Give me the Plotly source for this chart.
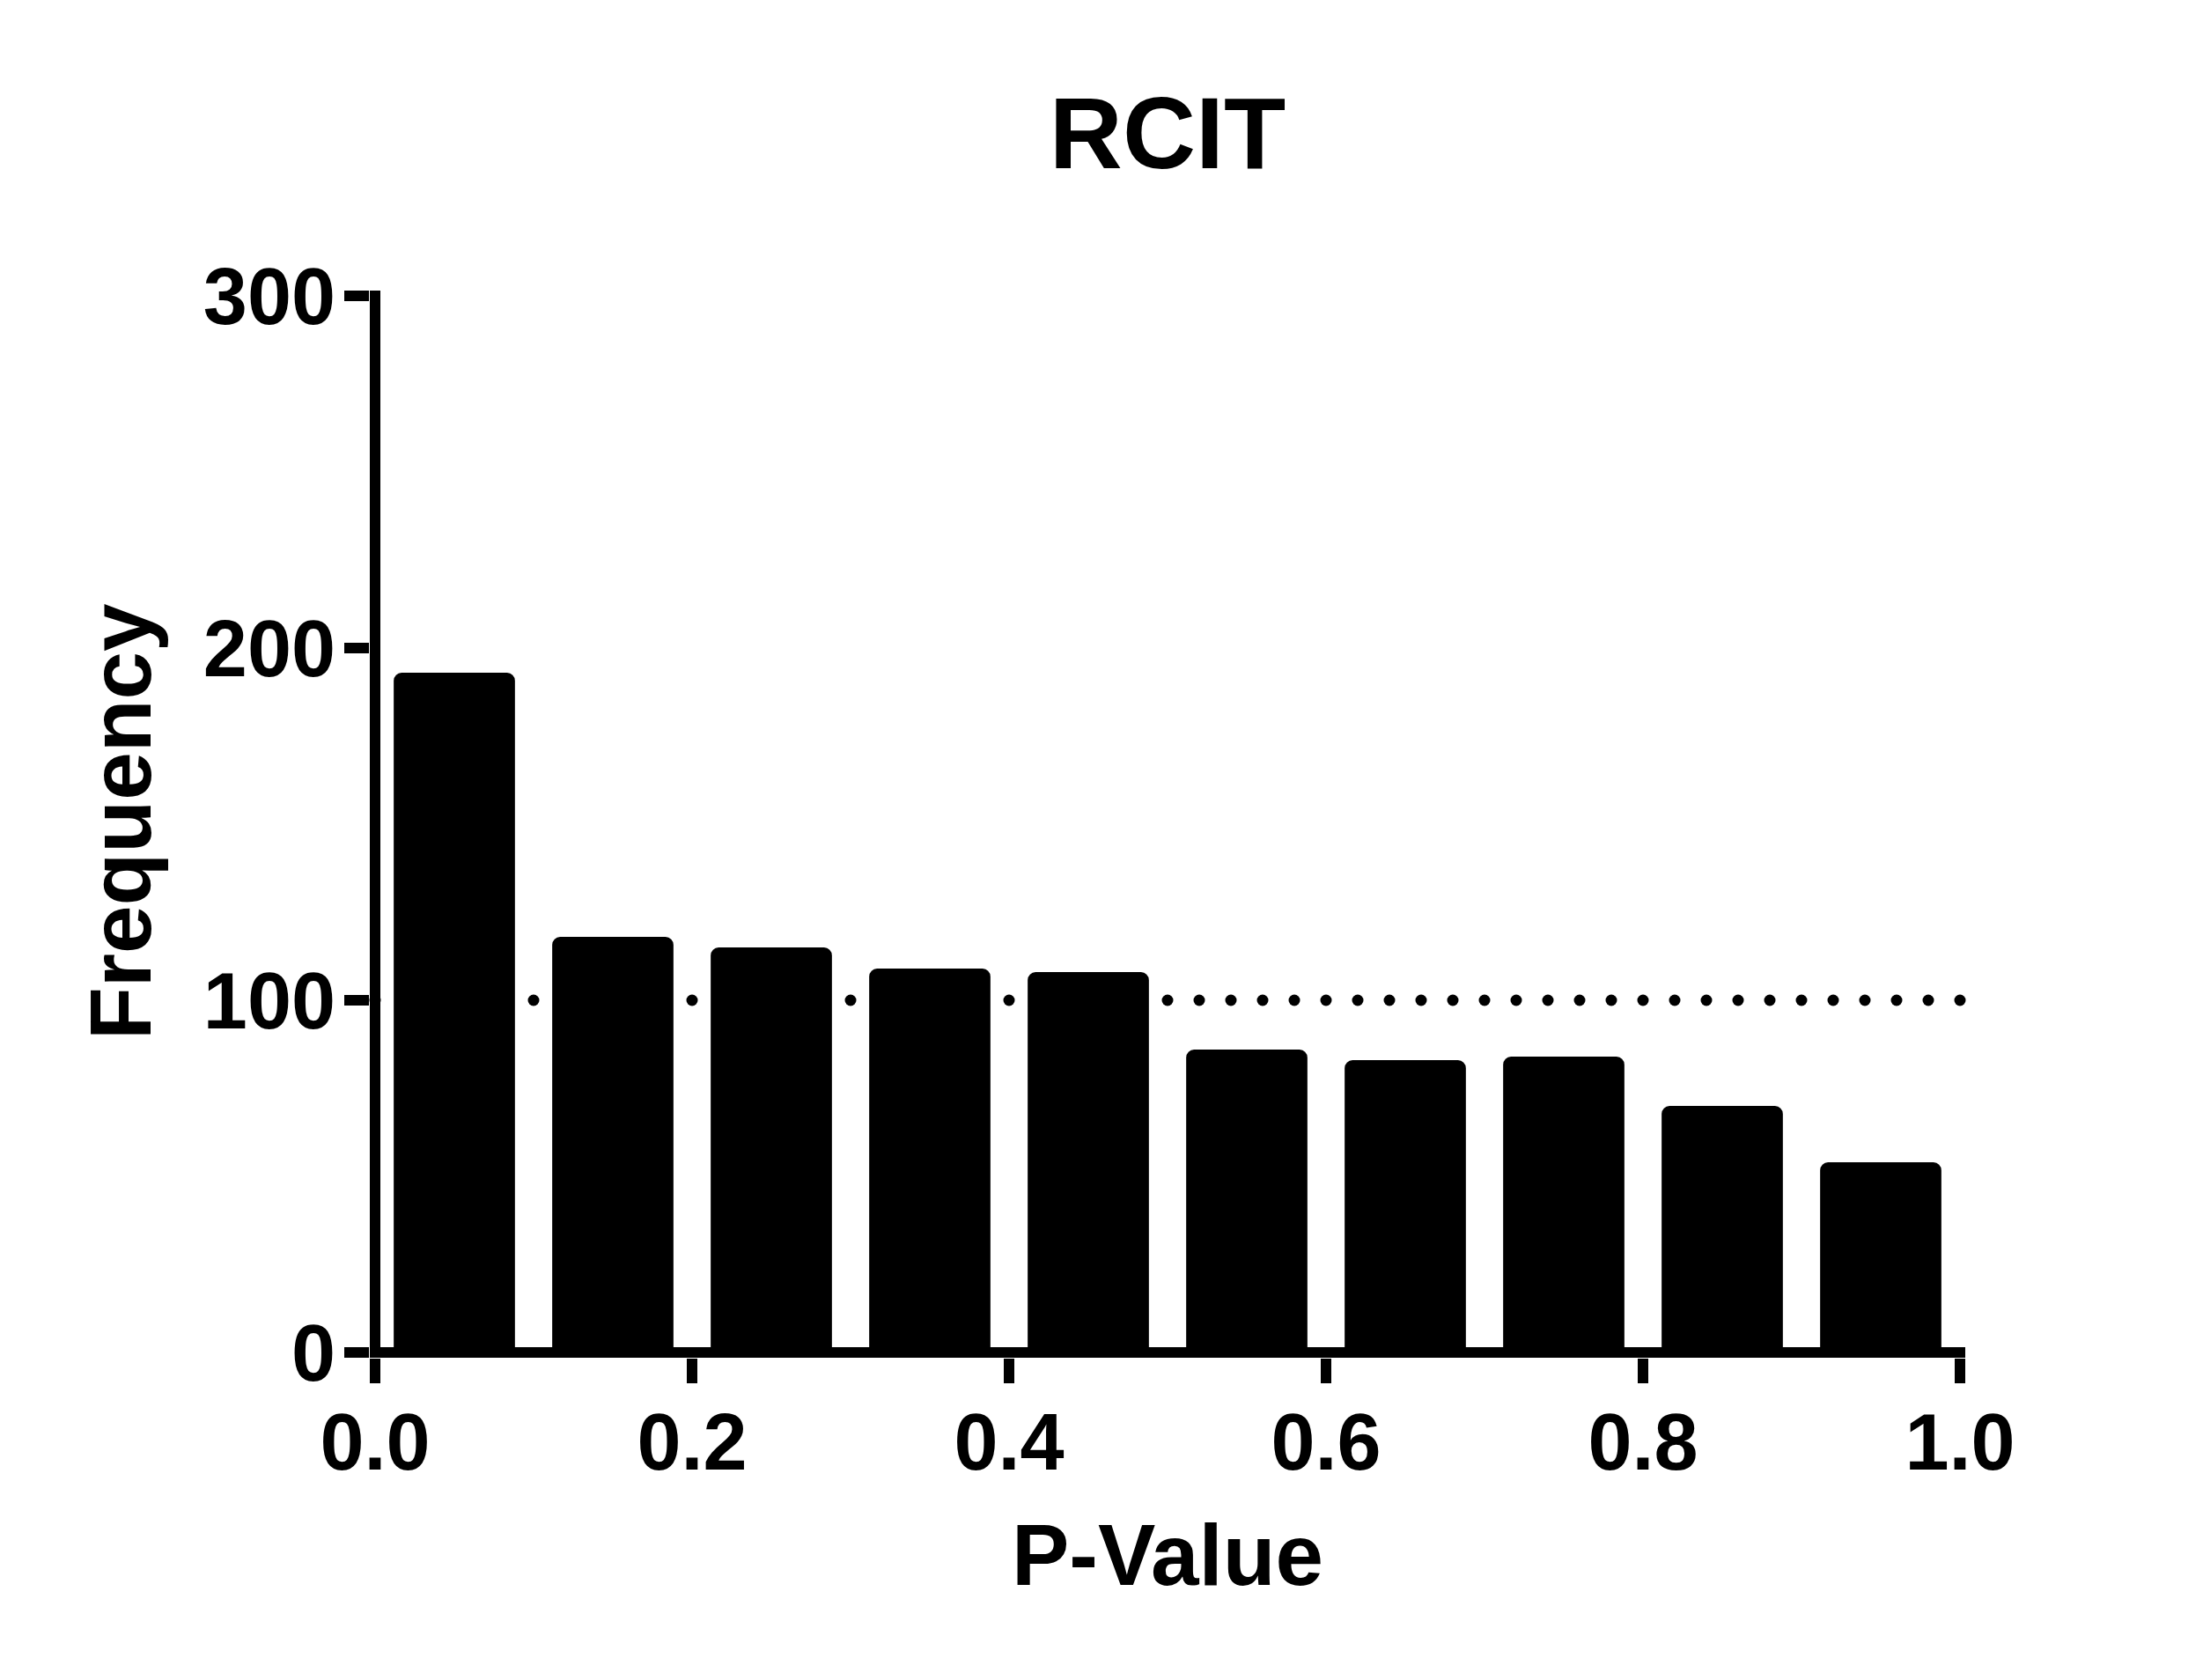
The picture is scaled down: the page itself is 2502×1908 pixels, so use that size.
import numpy as np
import plotly.graph_objects as go

# ---- data ----
title_text = "RCIT"
x_label = "P-Value"
y_label = "Frequency"
bin_centers = [0.05, 0.15, 0.25, 0.35, 0.45, 0.55, 0.65, 0.75, 0.85, 0.95]
frequencies = [193, 118, 115, 109, 108, 86, 83, 84, 70, 54]
expected_frequency = 100
x_tick_vals = [0.0, 0.2, 0.4, 0.6, 0.8, 1.0]
x_tick_text = ["0.0", "0.2", "0.4", "0.6", "0.8", "1.0"]
y_tick_vals = [0, 100, 200, 300]
y_tick_text = ["0", "100", "200", "300"]

# ---- style ----
FONT = "Liberation Sans, Arial, Helvetica, sans-serif"
BAR_WIDTH = 0.0765
DOT_STEP = 0.02
W, H = 2502, 1908
L, R, T, B = 420, 270, 330, 366          # plot area 420..2232 x 330..1542
X_PAD = 6 / 1800                          # half axis-line width in x units
Y_PAD = 6 / 4.0                           # half axis-line width in y units
X_RANGE = [0 - X_PAD, 1 + X_PAD]
Y_RANGE = [0 - Y_PAD, 300 + Y_PAD]
PW, PH = W - L - R, H - T - B

dot_x = np.arange(0, 1 + DOT_STEP / 2, DOT_STEP)
dot_y = [expected_frequency] * len(dot_x)

fig = go.Figure()
# dotted reference line (main subplot, below bars)
fig.add_trace(go.Scatter(
    x=dot_x, y=dot_y, mode="markers",
    marker=dict(size=13, color="black", line=dict(width=0)),
    cliponaxis=False, hoverinfo="skip", showlegend=False,
    xaxis="x", yaxis="y",
))
# histogram bars (overlay subplot, above dots)
fig.add_trace(go.Bar(
    x=bin_centers, y=frequencies, width=BAR_WIDTH,
    marker=dict(color="black", line=dict(width=0), cornerradius=9),
    showlegend=False, xaxis="x2", yaxis="y2",
))

axis_common = dict(
    showline=False,
    zeroline=True, zerolinewidth=12, zerolinecolor="black",
    ticks="outside", ticklen=28, tickwidth=12, tickcolor="black",
    showgrid=False,
    tickfont=dict(family=FONT, size=90, color="black", weight="bold"),
)

fig.update_layout(
    width=W, height=H,
    margin=dict(l=L, r=R, t=T, b=B, pad=0),
    paper_bgcolor="white", plot_bgcolor="white",
    font=dict(family=FONT, color="black", weight="bold"),
    showlegend=False,
    title=dict(text=title_text, x=0.5, xref="paper", xanchor="center",
               y=1 - 150.4 / H, yref="container", yanchor="middle",
               font=dict(family=FONT, size=115, color="black", weight="bold")),
    xaxis=dict(range=X_RANGE, tickvals=x_tick_vals, ticktext=x_tick_text,
               ticklabelstandoff=-10, **axis_common),
    yaxis=dict(range=Y_RANGE, tickvals=y_tick_vals, ticktext=y_tick_text,
               ticklabelstandoff=-8, **axis_common),
    xaxis2=dict(range=X_RANGE, overlaying="x", anchor="y2", visible=False),
    yaxis2=dict(range=Y_RANGE, overlaying="y", anchor="x2", visible=False),
    annotations=[
        dict(text=x_label, xref="paper", yref="paper", x=0.5, y=(1542 - 1766) / PH,
             xanchor="center", yanchor="middle", showarrow=False,
             font=dict(family=FONT, size=98, color="black", weight="bold")),
        dict(text=y_label, xref="paper", yref="paper", x=(137 - L) / PW, y=(1542 - 933) / PH,
             xanchor="center", yanchor="middle", showarrow=False, textangle=-90,
             font=dict(family=FONT, size=98, color="black", weight="bold")),
    ],
)

fig.write_html("out.html")
